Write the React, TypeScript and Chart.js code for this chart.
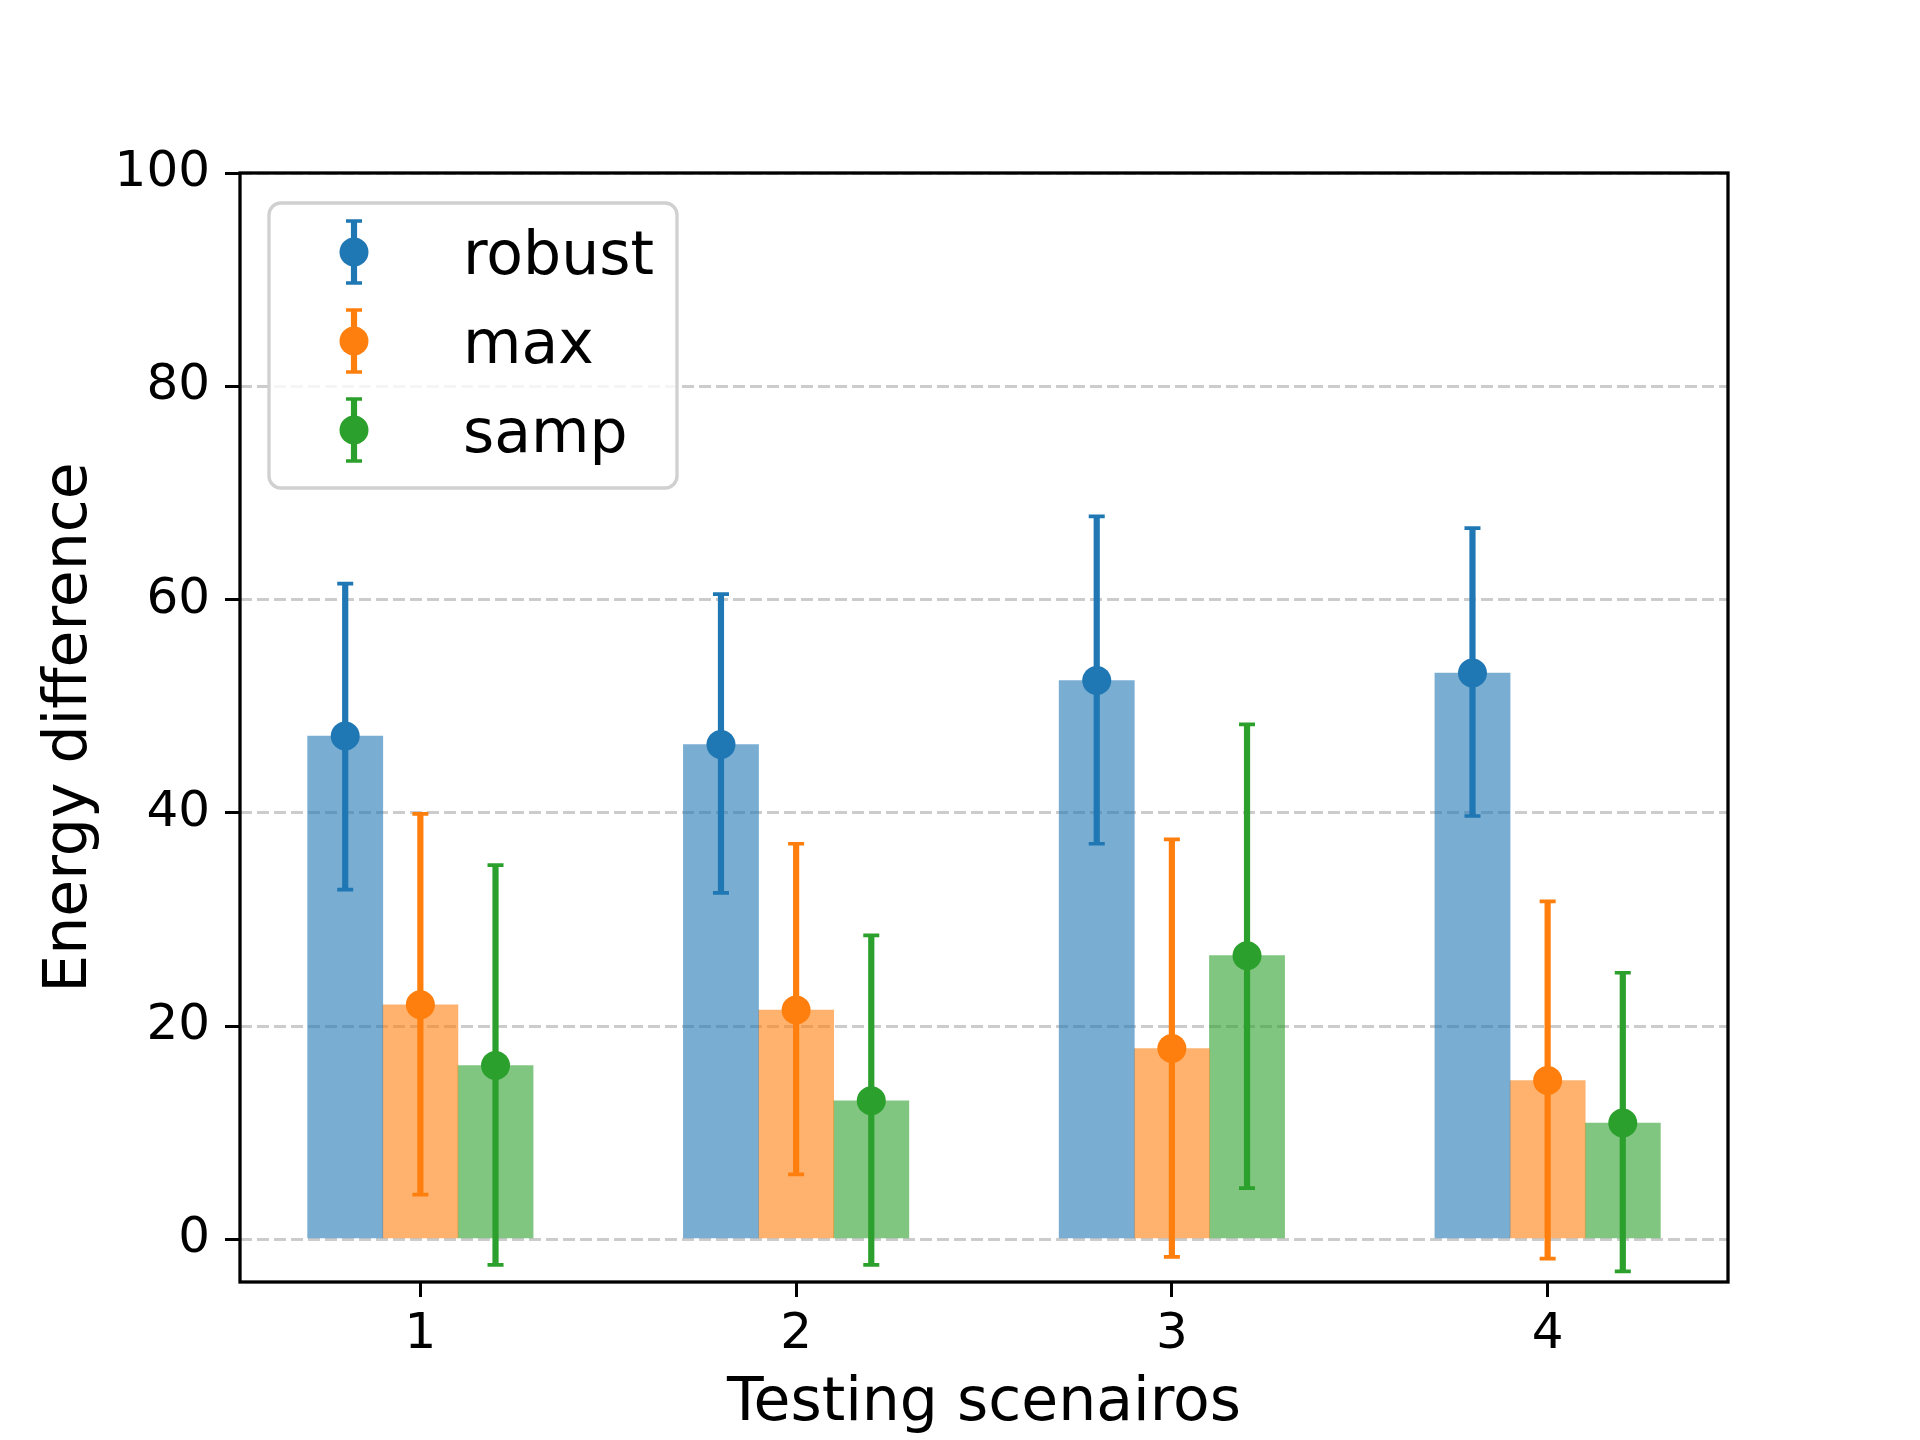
import React, { useEffect, useRef } from 'react';
import { Chart, registerables } from 'chart.js';

Chart.register(...registerables);

// ---- data ----
const scenarios = [1, 2, 3, 4];
const seriesNames = ['robust', 'max', 'samp'];
const robustMean = [47.2, 46.4, 52.4, 53.1];
const robustLow = [32.8, 32.5, 37.1, 39.7];
const robustHigh = [61.5, 60.5, 67.8, 66.7];
const maxMean = [22.0, 21.5, 17.9, 14.9];
const maxLow = [4.2, 6.1, -1.65, -1.8];
const maxHigh = [39.9, 37.1, 37.5, 31.7];
const sampMean = [16.3, 13.0, 26.6, 10.9];
const sampLow = [-2.4, -2.4, 4.8, -3.0];
const sampHigh = [35.1, 28.5, 48.3, 25.0];
const yTickValues = [0, 20, 40, 60, 80, 100];

// ---- style ----
const FONT = "'DejaVu Sans', sans-serif";
const solidColors = ['#1f77b4', '#ff7f0e', '#2ca02c'];
const barColors = ['rgba(31,119,180,0.6)', 'rgba(255,127,14,0.6)', 'rgba(44,160,44,0.6)'];
const BAR_WIDTH = 0.2;

const means = [robustMean, maxMean, sampMean];
const lows = [robustLow, maxLow, sampLow];
const highs = [robustHigh, maxHigh, sampHigh];

const errorBarPlugin = {
  id: 'errbars',
  beforeDatasetDraw(chart: any, args: any) {
    const ds: any = chart.data.datasets[args.index];
    if (!ds.errLow) return;
    const ctx = chart.ctx;
    const xs = chart.scales.x;
    const ys = chart.scales.y;
    ctx.save();
    ctx.strokeStyle = ds.errColor;
    ds.data.forEach((p: any, i: number) => {
      const px = xs.getPixelForValue(p.x);
      const lo = ys.getPixelForValue(ds.errLow[i]);
      const hi = ys.getPixelForValue(ds.errHigh[i]);
      ctx.lineWidth = 6.2;
      ctx.beginPath();
      ctx.moveTo(px, lo);
      ctx.lineTo(px, hi);
      ctx.stroke();
      ctx.lineWidth = 3.7;
      ctx.beginPath();
      ctx.moveTo(px - 8, lo);
      ctx.lineTo(px + 8, lo);
      ctx.moveTo(px - 8, hi);
      ctx.lineTo(px + 8, hi);
      ctx.stroke();
    });
    ctx.restore();
  },
};

const framePlugin = {
  id: 'frameAndLegend',
  afterDraw(chart: any) {
    const ctx = chart.ctx;
    const a = chart.chartArea;
    ctx.save();
    ctx.strokeStyle = '#000';
    ctx.lineWidth = 3.3;
    ctx.strokeRect(a.left, a.top, a.right - a.left, a.bottom - a.top);

    // legend
    const bx = a.left + 29;
    const by = a.top + 30;
    const bw = 408;
    const bh = 285;
    const r = 12;
    ctx.beginPath();
    ctx.moveTo(bx + r, by);
    ctx.lineTo(bx + bw - r, by);
    ctx.arcTo(bx + bw, by, bx + bw, by + r, r);
    ctx.lineTo(bx + bw, by + bh - r);
    ctx.arcTo(bx + bw, by + bh, bx + bw - r, by + bh, r);
    ctx.lineTo(bx + r, by + bh);
    ctx.arcTo(bx, by + bh, bx, by + bh - r, r);
    ctx.lineTo(bx, by + r);
    ctx.arcTo(bx, by, bx + r, by, r);
    ctx.closePath();
    ctx.fillStyle = 'rgba(255,255,255,0.8)';
    ctx.fill();
    ctx.strokeStyle = '#d0d0d0';
    ctx.lineWidth = 3.3;
    ctx.stroke();

    seriesNames.forEach((name, i) => {
      const cy = by + 49 + i * 89;
      const mx = bx + 85;
      const col = solidColors[i];
      ctx.strokeStyle = col;
      ctx.lineWidth = 6.2;
      ctx.beginPath();
      ctx.moveTo(mx, cy - 31);
      ctx.lineTo(mx, cy + 31);
      ctx.stroke();
      ctx.lineWidth = 3.7;
      ctx.beginPath();
      ctx.moveTo(mx - 8, cy - 31);
      ctx.lineTo(mx + 8, cy - 31);
      ctx.moveTo(mx - 8, cy + 31);
      ctx.lineTo(mx + 8, cy + 31);
      ctx.stroke();
      ctx.fillStyle = col;
      ctx.beginPath();
      ctx.arc(mx, cy, 14.5, 0, Math.PI * 2);
      ctx.fill();
      ctx.fillStyle = '#000';
      ctx.font = `60px ${FONT}`;
      ctx.textAlign = 'left';
      ctx.textBaseline = 'alphabetic';
      ctx.fillText(name, bx + 194, cy + 22);
    });
    ctx.restore();
  },
};

export default function App() {
  const ref = useRef<HTMLCanvasElement | null>(null);

  useEffect(() => {
    if (!ref.current) return;
    const barSets = seriesNames.map((name, k) => ({
      type: 'bar' as const,
      label: name + ' bar',
      data: scenarios.map((s, i) => ({ x: s + (k - 1) * BAR_WIDTH, y: means[k][i] })),
      backgroundColor: barColors[k],
      borderWidth: 0,
      grouped: false,
      categoryPercentage: 1,
      barPercentage: 1,
      order: 2,
    }));
    const pointSets = seriesNames.map((name, k) => ({
      type: 'line' as const,
      label: name,
      data: scenarios.map((s, i) => ({ x: s + (k - 1) * BAR_WIDTH, y: means[k][i] })),
      showLine: false,
      pointRadius: 14.5,
      pointHoverRadius: 14.5,
      pointBackgroundColor: solidColors[k],
      pointBorderWidth: 0,
      borderColor: solidColors[k],
      errLow: lows[k],
      errHigh: highs[k],
      errColor: solidColors[k],
      order: 1,
    }));

    const chart = new Chart(ref.current, {
      type: 'bar',
      data: { datasets: [...barSets, ...pointSets] as any },
      options: {
        animation: false,
        responsive: false,
        maintainAspectRatio: false,
        layout: { padding: { left: 0, right: 192, top: 173, bottom: 0 } },
        plugins: { legend: { display: false }, tooltip: { enabled: false } },
        scales: {
          x: {
            type: 'linear',
            min: 0.52,
            max: 4.48,
            offset: false,
            afterBuildTicks: (s: any) => {
              s.ticks = scenarios.map((v) => ({ value: v }));
            },
            afterFit: (s: any) => {
              s.height = 158;
            },
            grid: { offset: false, drawOnChartArea: false, tickLength: 15, tickColor: '#000', tickWidth: 3 },
            border: { display: false },
            ticks: {
              font: { family: FONT, size: 50 },
              color: '#000',
              padding: 8,
              maxRotation: 0,
              autoSkip: false,
              callback: (v: any) => String(v),
            },
            title: {
              display: true,
              text: 'Testing scenairos',
              font: { family: FONT, size: 60 },
              color: '#000',
              padding: { top: 0, bottom: 0 },
            },
          },
          y: {
            type: 'linear',
            min: -4,
            max: 100,
            afterBuildTicks: (s: any) => {
              s.ticks = yTickValues.map((v) => ({ value: v }));
            },
            afterFit: (s: any) => {
              s.width = 240;
            },
            grid: { color: '#cccccc', lineWidth: 3, tickLength: 15, tickColor: '#000', tickWidth: 3 },
            border: { display: false, dash: [12, 5] },
            ticks: {
              font: { family: FONT, size: 50 },
              color: '#000',
              padding: 15,
              callback: (v: any) => String(v),
            },
            title: {
              display: true,
              text: 'Energy difference',
              font: { family: FONT, size: 60 },
              color: '#000',
              padding: { top: 34, bottom: 0 },
            },
          },
        },
      },
      plugins: [errorBarPlugin, framePlugin],
    });
    return () => chart.destroy();
  }, []);

  return (
    <div style={{ position: 'absolute', left: 0, top: 0, width: 1920, height: 1440, background: '#fff' }}>
      <canvas ref={ref} width={1920} height={1440} style={{ display: 'block' }} />
    </div>
  );
}
